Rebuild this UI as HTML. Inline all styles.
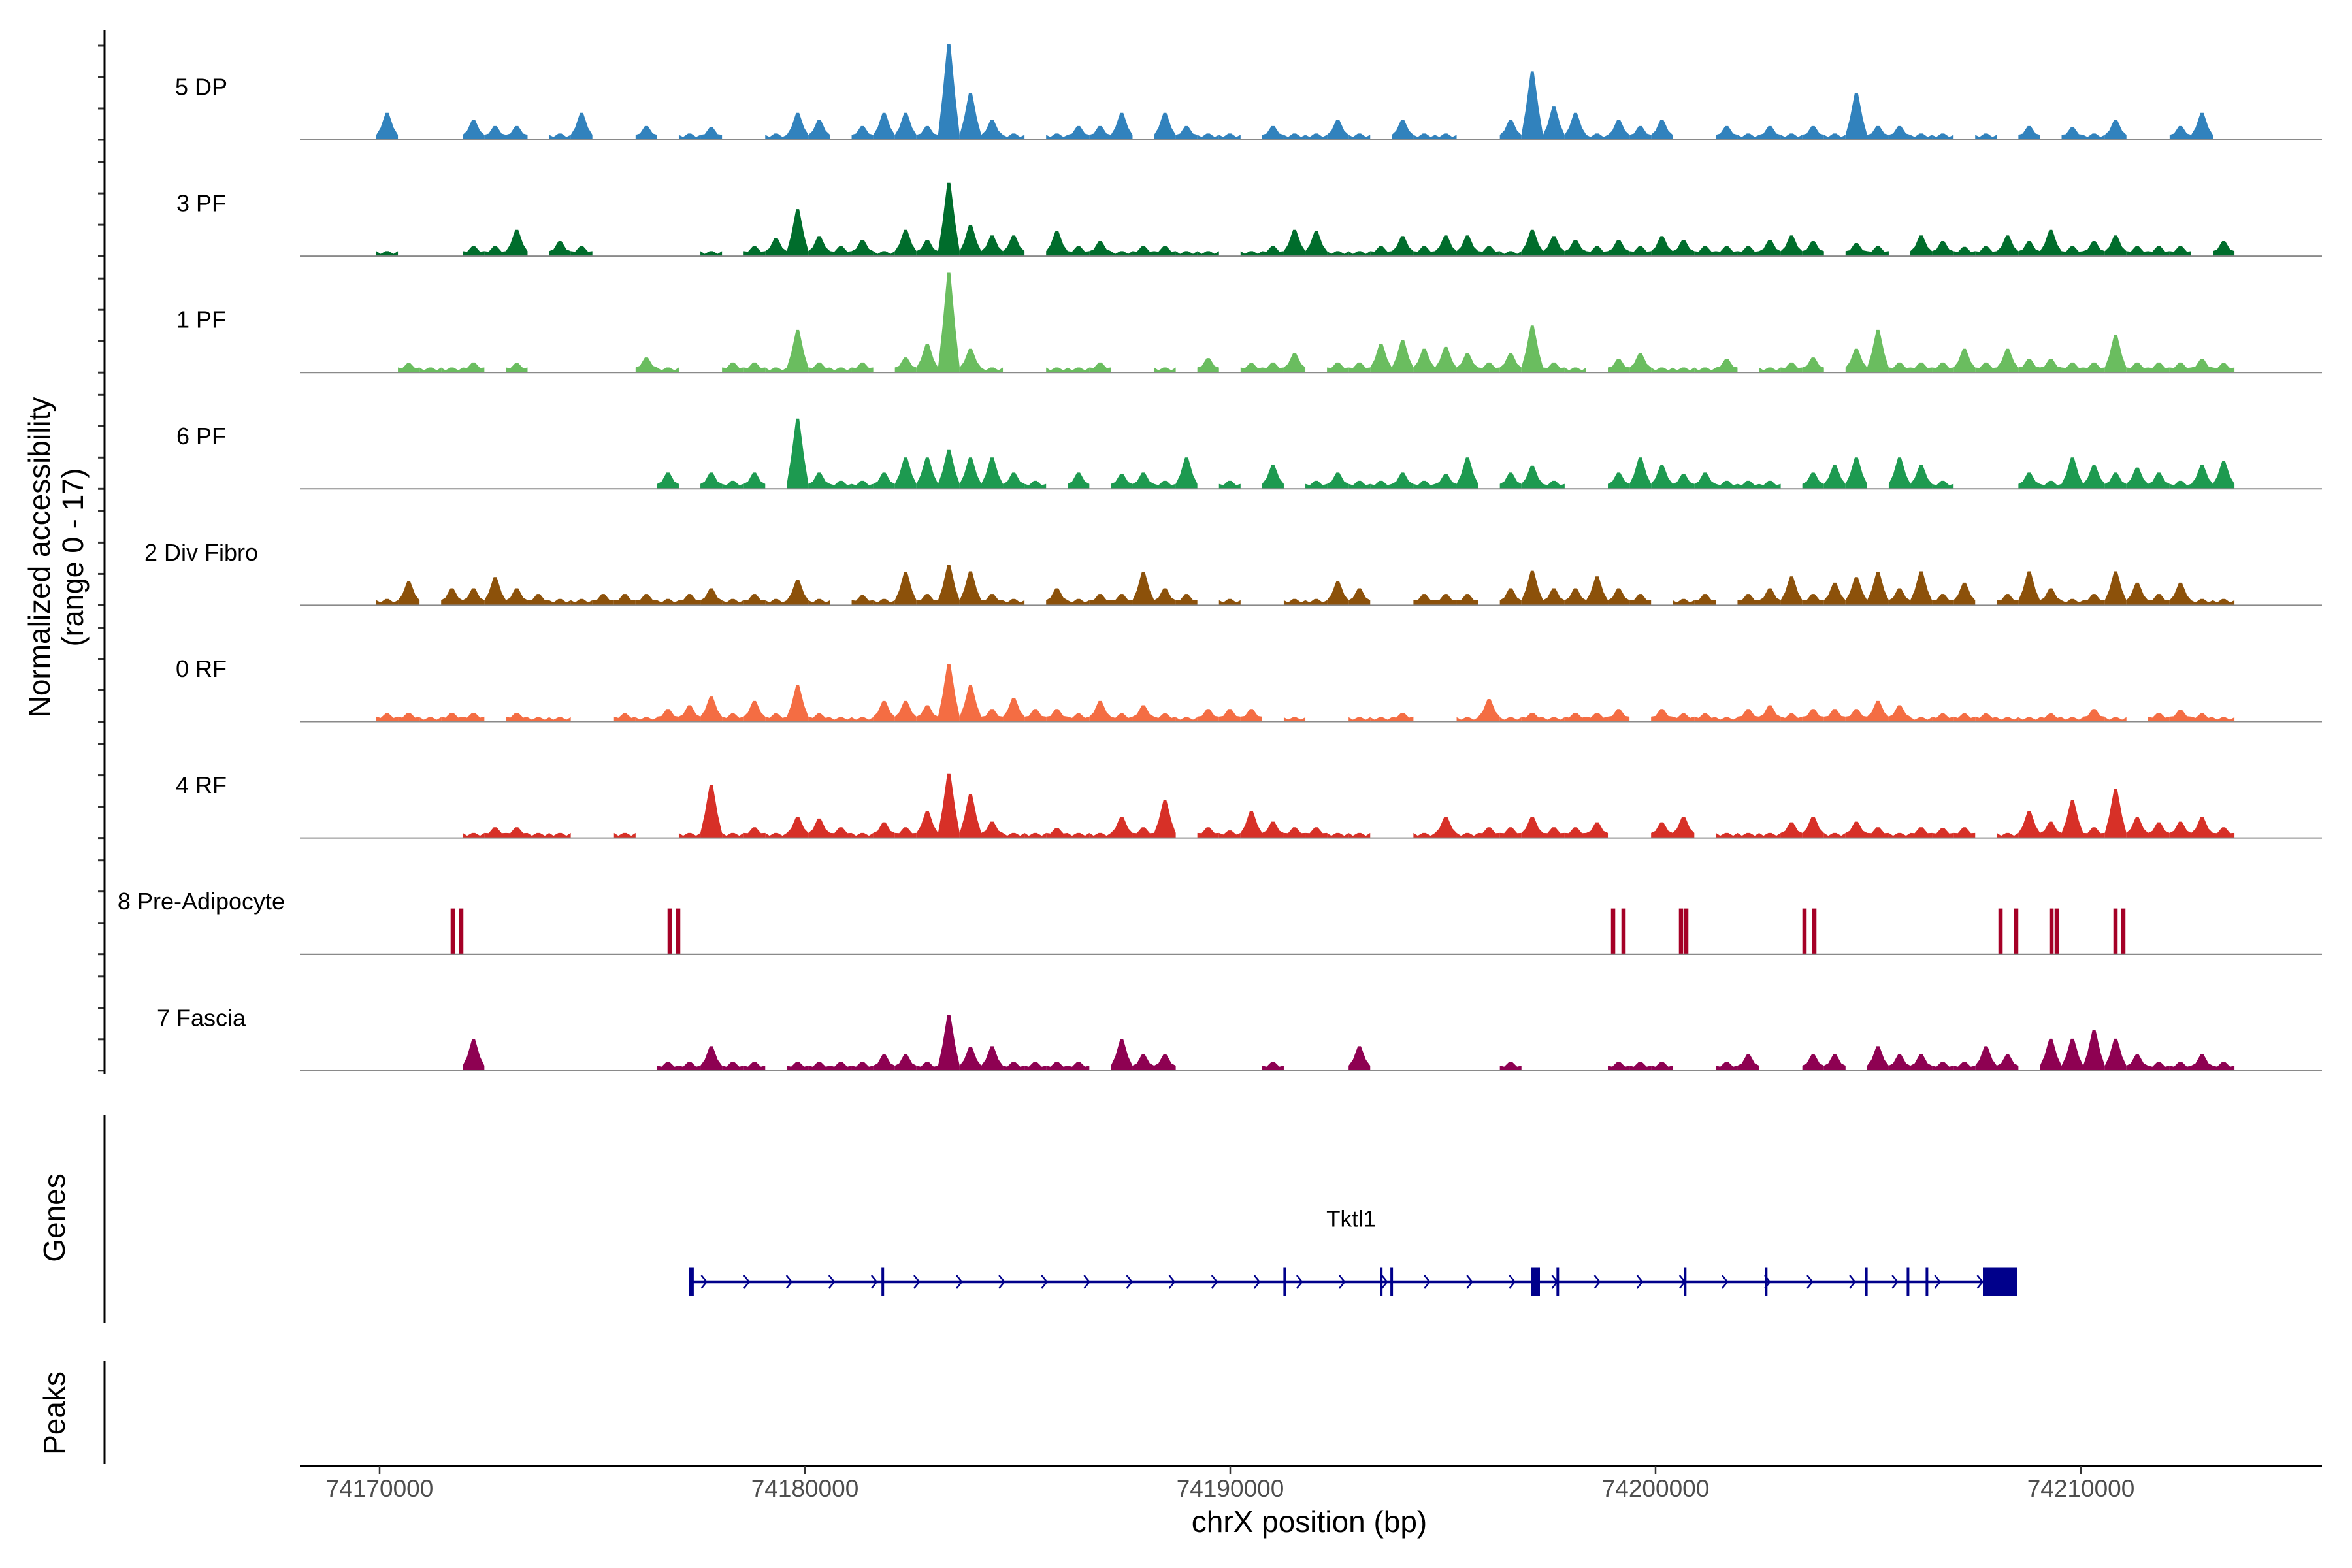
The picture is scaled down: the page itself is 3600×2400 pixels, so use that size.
<!DOCTYPE html>
<html><head><meta charset="utf-8"><style>
html,body{margin:0;padding:0;background:#fff}
svg{display:block;font-family:"Liberation Sans",Arial,sans-serif}
</style></head><body>
<svg id="chart" width="3600" height="2400" viewBox="0 0 3600 2400" xmlns="http://www.w3.org/2000/svg">
<rect width="3600" height="2400" fill="#fff"/>
<g id="tracks"></g>
<g id="yaxis"></g>
<text transform="translate(64,853) rotate(-90)" text-anchor="middle" dominant-baseline="middle" font-size="46">Normalized accessibility</text>
<text transform="translate(115,853) rotate(-90)" text-anchor="middle" dominant-baseline="middle" font-size="45">(range 0 - 17)</text>
<line x1="160" y1="1706" x2="160" y2="2025" stroke="#000" stroke-width="3"/>
<text transform="translate(87,1864) rotate(-90)" text-anchor="middle" dominant-baseline="middle" font-size="46">Genes</text>
<line x1="160" y1="2083" x2="160" y2="2241" stroke="#000" stroke-width="3"/>
<text transform="translate(87,2163) rotate(-90)" text-anchor="middle" dominant-baseline="middle" font-size="46">Peaks</text>
<g id="gene"></g>
<text x="2068" y="1868" text-anchor="middle" dominant-baseline="middle" font-size="35">Tktl1</text>
<g id="xaxis"></g>
<text x="2004" y="2333" text-anchor="middle" dominant-baseline="middle" font-size="46">chrX position (bp)</text>
</svg>
<script>
// ---- data ----
const binStart = 74169923;
const binSize = 508;
const trackNames = ["5 DP","3 PF","1 PF","6 PF","2 Div Fibro","0 RF","4 RF","8 Pre-Adipocyte","7 Fascia"];
const trackColors = ["#3182bd","#006d2c","#6abd5f","#1d9a50","#8c510a","#f46d43","#d73027","#a50026","#8e0152"];
const dp5 = [4.3,0,0,0,3.2,2.2,2.2,0,1,4.3,0,0,2.2,0,1,2,0,0,1,4.3,3.2,0,2.2,4.3,4.3,2.2,15.3,7.5,3.2,1,0,1,2.2,2.2,4.3,0,4.3,2.2,1,1,0,2.2,1,1,3.2,1,0,3.2,1,1,0,0,3.2,10.9,5.3,4.3,1,3.2,2.2,3.2,0,0,2.2,1,2.2,1,2.2,1,7.5,2.2,2.2,1,1,0,1,0,2.2,0,2,1,3.2,0,0,2.2,4.3,0,0,0];
const pf3 = [0.8,0,0,0,1.6,1.6,4.2,0,2.4,1.6,0,0,0,0,0,0.8,0,1.6,2.9,7.5,3.2,1.6,2.6,0.8,4.2,2.6,11.7,5,3.3,3.3,0,4,1.6,2.4,0.8,1.6,1.6,0.8,0.8,0,0.8,1.6,4.2,4,0.8,0.8,1.6,3.2,1.6,3.3,3.3,1.6,0.8,4.2,3.2,2.6,1.6,2.6,1.6,3.2,2.6,1.6,1.6,1.6,2.6,3.3,2.4,0,2.1,1.6,0,3.3,2.4,1.5,1.6,3.3,2.4,4.2,1.6,2.4,3.3,1.6,1.6,1.6,0,2.4,0,0];
const pf1 = [0,1.5,0.8,0.8,1.6,0,1.5,0,0,0,0,0,2.4,0.8,0,0,1.6,1.6,0.8,6.8,1.6,0.8,1.6,0,2.4,4.6,15.9,3.8,0.8,0,0,0.8,0.8,1.6,0,0,0.8,0,2.3,0,1.5,1.6,3.1,0,1.6,1.6,4.6,5.2,3.8,4.1,3.1,1.6,3.1,7.5,1.6,0.8,0,2.2,3.1,0.8,0.8,0.8,2.2,0,0.8,1.6,2.4,0,3.8,6.8,1.6,1.6,1.6,3.8,1.6,3.8,2.2,2.2,1.6,1.6,6,1.6,1.6,1.6,2.2,1.5,0,0];
const pf6 = [0,0,0,0,0,0,0,0,0,0,0,0,0,2.6,0,2.6,1.3,2.6,0,11.2,2.6,1.3,1.3,2.6,5,5,6.2,5,5,2.6,1.3,0,2.6,0,2.4,2.6,1.3,5,0,1.3,0,3.8,0,1.3,2.6,1.3,1.3,2.6,1.3,2.4,5,0,2.6,3.7,1.3,0,0,2.6,5,3.8,2.4,2.6,1.3,1.3,1.3,0,2.6,3.8,5,0,5,3.8,1.3,0,0,0,2.6,1.3,5,3.8,2.6,3.4,2.6,1.3,3.8,4.4,0,0];
const divFibro2 = [1,3.8,0,2.7,2.7,4.5,2.7,1.8,1,1,1.8,1.8,1.8,1,1.8,2.7,1,1.8,1,4.1,1,0,1.6,1,5.3,1.8,6.4,5.4,1.8,1,0,2.7,1,1.8,1.8,5.3,2.7,1.8,0,1,0,0,1,1,3.8,2.7,0,0,1.8,1.8,1.8,0,2.7,5.5,2.7,2.7,4.6,2.7,1.8,0,1,1.8,0,1.8,2.7,4.6,1.8,3.6,4.5,5.3,2.7,5.4,1.8,3.6,0,1.8,5.4,2.7,1,1.8,5.4,3.6,1.8,3.6,1,1,0,0];
const rf0 = [1.3,1.4,0.7,1.4,1.4,0,1.4,0.7,0.7,0,0,1.3,0.7,2,2.6,4,1.3,3.3,1.3,5.8,1.3,0.7,0.7,3.3,3.3,2.6,9.2,5.8,2,3.8,2,2,1.3,3.3,1.3,2.6,1.3,0.7,2,2,2,0,0.7,0,0,0.7,0.7,1.4,0,0,0.7,3.6,0.7,1.4,0.7,1.4,1.4,2,0,2,1.3,1.3,0.7,2,2.6,1.3,2,2,2,3.3,2.6,0.7,1.3,1.3,1.3,0.7,0.7,1.3,0.7,2,0.7,0,1.4,1.9,1.3,0.7,0,0];
const rf4 = [0,0,0,0,0.8,1.7,1.7,0.8,0.8,0,0,0.8,0,0,0.8,8.5,0.8,1.7,0.8,3.4,3.1,1.7,0.8,2.5,1.7,4.3,10.3,7,2.6,0.8,0.8,1.6,0.8,0.8,3.4,1.7,6,0,1.7,1.2,4.3,2.6,1.7,1.7,0.8,0.8,0,0,0.8,3.4,0.8,1.7,1.7,3.4,1.7,1.7,2.5,0,0,2.5,3.4,0,0.8,0.8,0.8,2.5,3.4,0.8,2.6,1.7,0.8,1.7,1.6,1.7,0,0.8,4.3,2.6,6,1.7,7.8,3.3,2.5,2.6,3.3,1.7,0,0];
const preAdipoPos = [74171720,74171920,74176820,74177020,74199002,74199247,74200599,74200722,74203502,74203733,74208111,74208479,74209309,74209432,74210814,74210998];
const preAdipoVal = [7.3,7.3,7.3,7.3,7.3,7.3,7.3,7.3,7.3,7.3,7.3,7.3,7.3,7.3,7.3,7.3];
const fascia7 = [0,0,0,0,5,0,0,0,0,0,0,0,0,1.4,1.4,3.9,1.4,1.4,0,1.4,1.4,1.4,1.4,2.6,2.6,1.4,8.9,3.8,3.9,1.4,1.4,1.4,1.4,0,5,2.6,2.6,0,0,0,0,1.4,0,0,0,3.9,0,0,0,0,0,0,1.4,0,0,0,0,1.4,1.4,1.4,0,0,1.4,2.6,0,0,2.6,2.6,0,3.9,2.6,2.6,1.4,1.4,3.9,2.6,0,5.1,5.1,6.5,5.1,2.6,1.4,1.4,2.6,1.4,0,0];
const xTicks = [74170000,74180000,74190000,74200000,74210000];
const xTickLabels = ["74170000","74180000","74190000","74200000","74210000"];
const yTickValues = [0,5,10,15];
const geneStart = 74177327, geneEnd = 74208495;
const exonStarts = [74177267,74181800,74191250,74193520,74193765,74197066,74197670,74200665,74202570,74204925,74205905,74206350,74207696];
const exonEnds   = [74177387,74181860,74191300,74193580,74193825,74197281,74197725,74200715,74202630,74204965,74205945,74206400,74208495];

// ---- scales ----
const NS = "http://www.w3.org/2000/svg";
function xScale(bp){ return 1232 + (bp - 74180000) * 0.0651; }
const trackTop0 = 214, trackStep = 178.1, unitPx = 9.6;
function baseY(k){ return trackTop0 + trackStep * k; }
function yScale(k, v){ return baseY(k) - v * unitPx; }
function mk(tag, attrs, parent){ const e = document.createElementNS(NS, tag); for (const a in attrs) e.setAttribute(a, attrs[a]); parent.appendChild(e); return e; }

const tracksG = document.getElementById("tracks");
const yaxisG = document.getElementById("yaxis");
const binned = [dp5, pf3, pf1, pf6, divFibro2, rf0, rf4, null, fascia7];

binned.forEach((arr, k) => {
  const b = baseY(k);
  const lbl = mk("text", {x:308, y:b-78, "text-anchor":"middle", "dominant-baseline":"middle", "font-size":36}, tracksG);
  
  
  lbl.textContent = trackNames[k];
  if (arr) {
    arr.forEach((v, i) => {
      if (v <= 0) return;
      const x0 = xScale(binStart + i*binSize), x1 = xScale(binStart + (i+1)*binSize);
      const w = x1 - x0, xc = (x0 + x1)/2, top = yScale(k, v), mid = yScale(k, v*0.45), low = yScale(k, Math.min(v, 0.8));
      const p = mk("polygon", {points:`${x0},${b} ${x0},${low} ${x0+0.2*w},${mid} ${xc-0.07*w},${top} ${xc+0.07*w},${top} ${x1-0.2*w},${mid} ${x1},${low} ${x1},${b}`, fill:trackColors[k]}, tracksG);
      
      
    });
  } else {
    preAdipoPos.forEach((pos, i) => {
      const x0 = xScale(pos - 50), x1 = xScale(pos + 50);
      const r = mk("rect", {x:x0, y:yScale(k, preAdipoVal[i]), width:x1-x0, height:preAdipoVal[i]*unitPx, fill:trackColors[k]}, tracksG);
      
      
    });
  }
  const bl = mk("line", {x1:459, x2:3554, y1:b, y2:b, stroke:"#8a8a8a", "stroke-width":2}, tracksG);
  
  
  yTickValues.forEach(v => {
    const t = mk("line", {x1:150, x2:160, y1:yScale(k, v), y2:yScale(k, v), stroke:"#333", "stroke-width":3}, yaxisG);
    
    
  });
});
const ya = mk("line", {x1:160, x2:160, y1:46, y2:1644, stroke:"#000", "stroke-width":3}, yaxisG);



// gene
const geneG = document.getElementById("gene");
const gy = 1962;
const gl = mk("line", {x1:xScale(geneStart), x2:xScale(geneEnd), y1:gy, y2:gy, stroke:"#00008b", "stroke-width":4.5}, geneG);


for (let p = geneStart + 300; p < geneEnd - 600; p += 1000) {
  const x = xScale(p);
  const c = mk("polyline", {points:`${x-4},${gy-10} ${x+4},${gy} ${x-4},${gy+10}`, fill:"none", stroke:"#00008b", "stroke-width":2.5}, geneG);
  
  
}
exonStarts.forEach((s, i) => {
  const x0 = xScale(s), x1 = xScale(exonEnds[i]);
  const r = mk("rect", {x:x0, y:gy-21.5, width:Math.max(4, x1-x0), height:43, fill:"#00008b"}, geneG);
  
  
});

// x axis
const xaG = document.getElementById("xaxis");
const xa = mk("line", {x1:459, x2:3554, y1:2244, y2:2244, stroke:"#000", "stroke-width":3.5}, xaG);


xTicks.forEach((t, i) => {
  const x = xScale(t);
  const tk = mk("line", {x1:x, x2:x, y1:2244, y2:2256, stroke:"#333", "stroke-width":2.5}, xaG);
  
  
  const tl = mk("text", {x:x, y:2281, "text-anchor":"middle", "dominant-baseline":"middle", "font-size":37, fill:"#4d4d4d"}, xaG);
  
  
  tl.textContent = xTickLabels[i];
});
</script>
</body></html>
